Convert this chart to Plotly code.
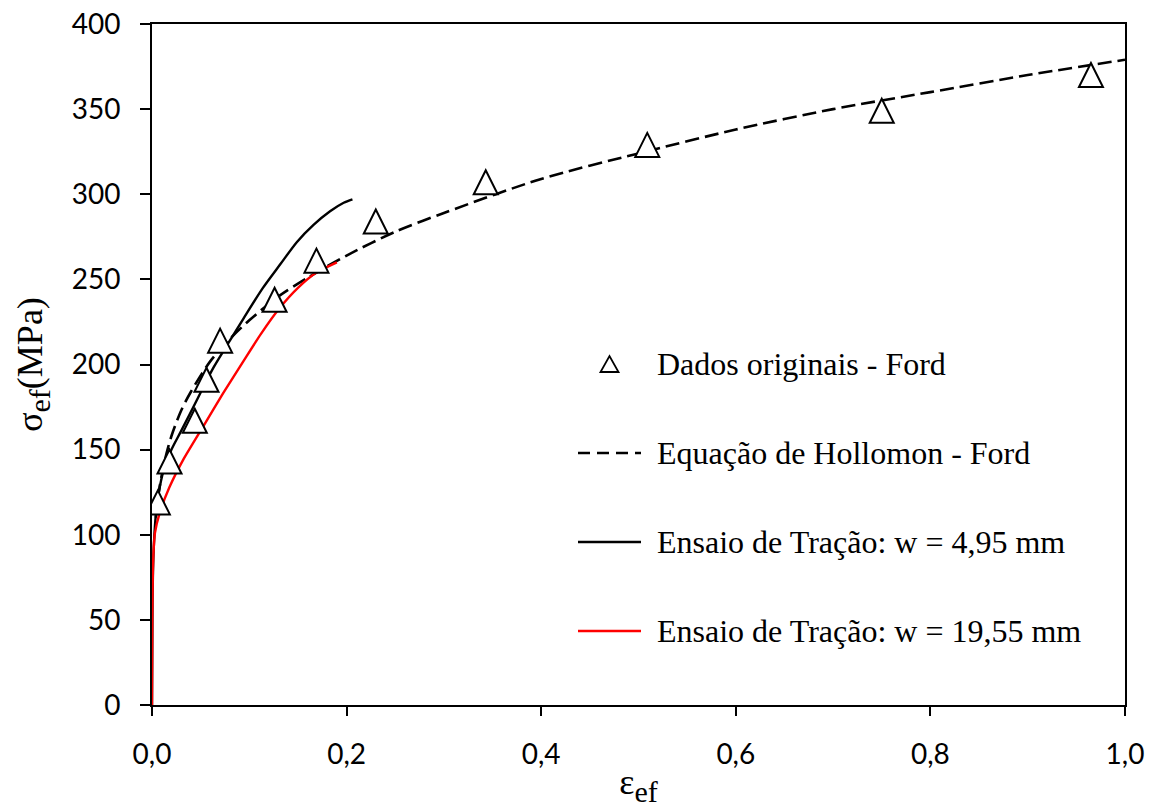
import plotly.graph_objects as go

# Dados originais - Ford (deformação efetiva, tensão efetiva em MPa)
eps_ford = [0.006, 0.018, 0.044, 0.056, 0.070, 0.126, 0.169, 0.230, 0.343, 0.509, 0.750, 0.965]
sig_ford = [119, 143, 167, 191, 214, 238, 261, 284, 307, 329, 349, 370]

# Equação de Hollomon - Ford
eps_hollomon = [0.004, 0.007, 0.010, 0.015, 0.020, 0.030, 0.040, 0.060, 0.080, 0.100, 0.130,
                0.160, 0.200, 0.250, 0.300, 0.400, 0.500, 0.600, 0.700, 0.800, 0.900, 1.000]
sig_hollomon = [110, 125, 135, 148, 158, 173, 184, 202, 215, 226, 240,
                251, 264, 278, 289, 309, 324, 338, 350, 360, 370, 379]

# Ensaio de Tração: w = 4,95 mm
eps_w495 = [0.0, 0.0005, 0.001, 0.002, 0.004, 0.007, 0.012, 0.020, 0.030, 0.046, 0.063,
            0.080, 0.094, 0.114, 0.132, 0.149, 0.166, 0.183, 0.197, 0.206]
sig_w495 = [0, 60, 78, 95, 112, 125, 138, 150, 161, 179, 198,
            214, 227, 245, 259, 272, 282, 290, 295, 297]

# Ensaio de Tração: w = 19,55 mm
eps_w1955 = [0.0, 0.0003, 0.0008, 0.0015, 0.003, 0.008, 0.018, 0.032, 0.053, 0.073,
             0.094, 0.112, 0.131, 0.150, 0.169, 0.190]
sig_w1955 = [0, 50, 75, 89, 101, 113, 128, 144, 164, 183,
             202, 218, 233, 245, 254, 260]

legend_labels = [
    "Dados originais - Ford",
    "Equação de Hollomon - Ford",
    "Ensaio de Tração: w = 4,95 mm",
    "Ensaio de Tração: w = 19,55 mm",
]

W, H = 1154, 808
ML, MR, MT, MB = 152, 29, 24, 103
PW, PH = W - ML - MR, H - MT - MB


def px_x(px):
    return (px - ML) / PW


def px_y(py):
    return (H - MB - py) / PH


fig = go.Figure()

fig.add_trace(go.Scatter(
    x=eps_hollomon, y=sig_hollomon, mode="lines", name=legend_labels[1],
    line=dict(color="black", width=2.6, dash="14px,6px", shape="spline", smoothing=0.8),
    showlegend=False,
))
fig.add_trace(go.Scatter(
    x=eps_w495, y=sig_w495, mode="lines", name=legend_labels[2],
    line=dict(color="black", width=2.4, shape="spline", smoothing=0.8),
    showlegend=False,
))
fig.add_trace(go.Scatter(
    x=eps_w1955, y=sig_w1955, mode="lines", name=legend_labels[3],
    line=dict(color="#ff0000", width=2.4, shape="spline", smoothing=0.6),
    showlegend=False,
))

shapes = []
# open triangles for the Ford data points, sized in pixels around each point
for e, s in zip(eps_ford, sig_ford):
    shapes.append(dict(
        type="path", xref="x", yref="y", xsizemode="pixel", ysizemode="pixel",
        xanchor=e, yanchor=s, path="M-12,-12 L12,-12 L0,12 Z",
        fillcolor="white", line=dict(color="black", width=2), layer="above",
    ))

# legend drawn inside the plot area
row_y = [364, 453, 542, 631]
sample_x0, sample_x1, text_x = 578, 641, 655
shapes.append(dict(
    type="path", xref="paper", yref="paper", xsizemode="pixel", ysizemode="pixel",
    xanchor=px_x((sample_x0 + sample_x1) / 2), yanchor=px_y(row_y[0]),
    path="M-9,-8 L9,-8 L0,8 Z", fillcolor="white",
    line=dict(color="black", width=1.8), layer="above",
))
legend_lines = [
    (row_y[1], "black", "12px,7px"),
    (row_y[2], "black", "solid"),
    (row_y[3], "#ff0000", "solid"),
]
for y, c, d in legend_lines:
    shapes.append(dict(
        type="line", xref="paper", yref="paper",
        x0=px_x(sample_x0), x1=px_x(sample_x1), y0=px_y(y), y1=px_y(y),
        line=dict(color=c, width=2.4, dash=d), layer="above",
    ))

annotations = []
for y, label in zip(row_y, legend_labels):
    annotations.append(dict(
        x=px_x(text_x), y=px_y(y), xref="paper", yref="paper",
        text=label, showarrow=False, xanchor="left", yanchor="middle",
        font=dict(family="Liberation Serif", size=32, color="black"),
    ))

tick_font = dict(family="Lato", size=28, color="black")
title_font = dict(family="Liberation Serif", size=36, color="black")
sub_ef = '<sub><span style="font-size:30px">ef</span></sub>'

fig.update_layout(
    width=W, height=H,
    margin=dict(l=ML, r=MR, t=MT, b=MB, pad=0, autoexpand=False),
    paper_bgcolor="white", plot_bgcolor="white",
    separators=", ",
    showlegend=False,
    shapes=shapes,
    annotations=annotations,
    xaxis=dict(
        range=[0, 1], dtick=0.2, tick0=0, tickformat=".1f",
        showgrid=False, zeroline=False, automargin=False,
        showline=True, linecolor="black", linewidth=2, mirror=True,
        ticks="outside", ticklen=9, tickwidth=2, tickcolor="black",
        tickfont=tick_font, ticklabelstandoff=14,
        title=dict(text="ε" + sub_ef, font=title_font, standoff=4),
    ),
    yaxis=dict(
        range=[0, 400], dtick=50, tick0=0,
        showgrid=False, zeroline=False, automargin=False,
        showline=True, linecolor="black", linewidth=2, mirror=True,
        ticks="outside", ticklen=10, tickwidth=2, tickcolor="black",
        tickfont=tick_font, ticklabelstandoff=14,
        title=dict(text="σ" + sub_ef + "(MPa)", font=title_font, standoff=18),
    ),
)

fig.write_html("out.html")
